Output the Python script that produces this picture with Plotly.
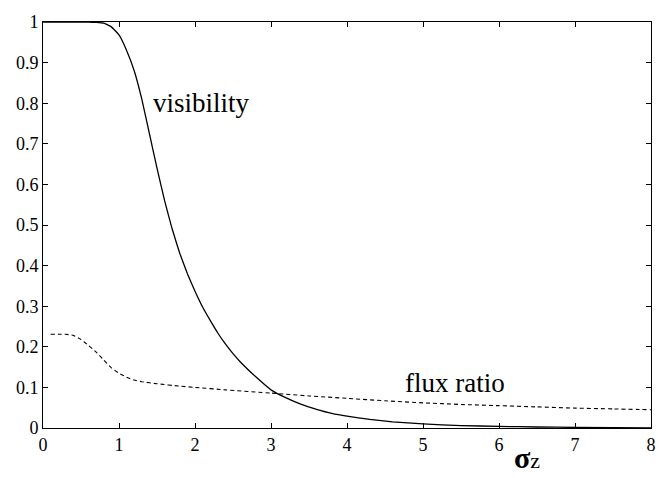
import plotly.graph_objects as go

vis_x = [0, 0.6, 0.7, 0.8, 0.9, 1.0, 1.1, 1.2, 1.3, 1.4, 1.5, 1.6, 1.7, 1.8, 1.9, 2.0,
         2.1, 2.2, 2.3, 2.4, 2.5, 2.6, 2.8, 3.0, 3.2, 3.4, 3.6, 3.8, 4.0, 4.3, 4.6,
         5.0, 5.5, 6.0, 6.5, 7.0, 8.0]
vis_y = [1.0, 1.0, 0.999, 0.997, 0.988, 0.968, 0.93, 0.88, 0.81, 0.725, 0.64, 0.56, 0.49,
         0.43, 0.38, 0.337, 0.298, 0.265, 0.234, 0.207, 0.183, 0.162, 0.126, 0.094,
         0.074, 0.058, 0.046, 0.036, 0.029, 0.021, 0.015, 0.010, 0.006, 0.004, 0.0025,
         0.0015, 0.0005]

flux_x = [0.1, 0.2, 0.3, 0.4, 0.5, 0.6, 0.7, 0.8, 0.9, 1.0, 1.1, 1.2, 1.3, 1.5, 1.8, 2.0,
          2.4, 3.0, 3.5, 4.0, 4.5, 5.0, 5.5, 6.0, 6.5, 7.0, 7.5, 8.0]
flux_y = [0.231, 0.231, 0.231, 0.228, 0.218, 0.203, 0.187, 0.167, 0.148, 0.135, 0.125,
          0.118, 0.114, 0.109, 0.103, 0.100, 0.094, 0.086, 0.079, 0.073, 0.067, 0.062,
          0.058, 0.055, 0.052, 0.049, 0.047, 0.045]

x_ticks = [0, 1, 2, 3, 4, 5, 6, 7, 8]
y_ticks = [0, 0.1, 0.2, 0.3, 0.4, 0.5, 0.6, 0.7, 0.8, 0.9, 1]
y_tick_labels = ["0", "0.1", "0.2", "0.3", "0.4", "0.5", "0.6", "0.7", "0.8", "0.9", "1"]

font = "Liberation Serif"

fig = go.Figure()
fig.add_trace(go.Scatter(x=vis_x, y=vis_y, mode="lines",
                         line=dict(color="black", width=1.3, shape="spline", smoothing=0.3)))
fig.add_trace(go.Scatter(x=flux_x, y=flux_y, mode="lines",
                         line=dict(color="black", width=1.1, dash="4px,3px", shape="spline", smoothing=0.3)))

def axis(ticks, labels, rng):
    return dict(range=rng, tickmode="array", tickvals=ticks, ticktext=labels,
                showline=True, linecolor="black", linewidth=1, mirror="allticks",
                ticks="inside", ticklen=5, tickcolor="black", tickwidth=1,
                showgrid=False, zeroline=False,
                tickfont=dict(family=font, size=18, color="black"))

fig.update_layout(
    width=668, height=478, margin=dict(l=43, r=14, t=12, b=50),
    font=dict(family=font, color="black", size=18),
    paper_bgcolor="white", plot_bgcolor="white", showlegend=False,
    xaxis=axis(x_ticks, [str(v) for v in x_ticks], [0, 8]),
    yaxis=axis(y_ticks, y_tick_labels, [0, 1]),
)

fig.add_annotation(x=2.09, y=0.80, text="visibility", showarrow=False,
                   font=dict(family=font, size=27, color="black"))
fig.add_annotation(x=5.42, y=0.111, text="flux ratio", showarrow=False,
                   font=dict(family=font, size=27, color="black"))
fig.add_annotation(x=6.37, y=-0.072, xref="x", yref="paper", yanchor="middle",
                   text="<b>σ</b><span style='font-size:22px'>z</span>",
                   showarrow=False, font=dict(family=font, size=30, color="black"))

fig.write_html("out.html")
